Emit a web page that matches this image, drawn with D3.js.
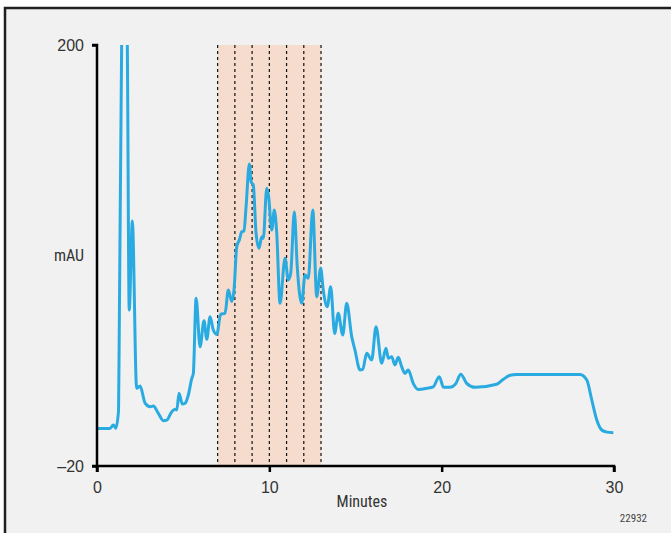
<!DOCTYPE html>
<html>
<head>
<meta charset="utf-8">
<script src="https://cdn.jsdelivr.net/npm/d3@7"></script>
<style>
  body { margin: 0; background: #fff; }
  svg { display: block; }
</style>
</head>
<body>
<svg></svg>
<script>
// retention time (min) and absorbance (mAU)
const minutes = [0, 0.75, 0.95, 1.09, 1.25, 1.30, 1.43, 1.60, 1.76, 1.87, 2.05, 2.30, 2.50, 2.79, 3.08, 3.27,
  3.56, 3.85, 4.05, 4.34, 4.53, 4.63, 4.76, 4.95, 5.11, 5.30, 5.50, 5.59, 5.75, 5.98, 6.21, 6.37,
  6.56, 6.75, 6.95, 7.18, 7.43, 7.62, 7.82, 7.95, 8.11, 8.26, 8.40, 8.53, 8.65, 8.84, 8.94, 9.07,
  9.23, 9.40, 9.56, 9.65, 9.85, 9.96, 10.14, 10.29, 10.43, 10.62, 10.91, 11.10, 11.24, 11.45, 11.62, 11.88,
  12.07, 12.26, 12.52, 12.75, 12.98, 13.13, 13.36, 13.56, 13.79, 14.00, 14.26, 14.49, 14.78, 14.97, 15.26, 15.42,
  15.65, 15.94, 16.19, 16.52, 16.77, 16.90, 17.10, 17.29, 17.48, 17.68, 17.87, 18.06, 18.35, 18.64, 19.13, 19.51,
  19.86, 20.11, 20.48, 20.83, 21.11, 21.45, 21.94, 23.19, 23.58, 23.97, 24.35, 28.03, 28.42, 28.71, 29.00, 29.29,
  29.59, 29.96];
const mAU = [-0.4, -0.4, 1.4, -0.3, 9, 60, 200, 290, 200, 61.5, 108, 20.6, 21.8, 12.9, 11.0, 11.4,
  7.5, 3.7, 4.0, 8.4, 9.6, 9.3, 18.0, 12.4, 12.8, 17.1, 25.8, 28.4, 67.6, 42.3, 55.9, 46.2,
  58.0, 51.1, 48.8, 59.4, 59.8, 72.0, 65.9, 72.0, 94.6, 98.1, 102.4, 102.8, 115.5, 137.8, 128.6, 126.8,
  101.6, 93.8, 99.8, 99.0, 125.1, 120.7, 103.3, 113.8, 101.6, 65.0, 88.5, 77.2, 80.7, 112.9, 84.1, 65.0,
  79.8, 78.1, 113.8, 68.5, 83.3, 72.0, 63.2, 73.7, 49.3, 59.8, 48.5, 65.0, 47.6, 40.6, 30.2, 30.5,
  38.9, 35.4, 52.8, 33.7, 41.5, 36.3, 37.1, 32.8, 36.8, 31.9, 28.4, 30.2, 23.2, 20.0, 20.6, 21.4,
  26.7, 21.1, 21.1, 23.2, 28.0, 23.2, 21.1, 22.7, 25.3, 27.4, 27.8, 27.8, 24.9, 14.5, 4.0, -1.2,
  -2.3, -2.6];
const xTicks = [0, 10, 20, 30];
const yTicks = [-20, 200];
const fractions = [7, 8, 9, 10, 11, 12, 13];

const W = 671, H = 533;
const svg = d3.select("svg").attr("width", W).attr("height", H)
  .style("font-family", "'Liberation Sans Narrow', 'Arial Narrow', 'Roboto Condensed', sans-serif");

// panel background + frame (cut off at right/bottom like the source)
svg.append("rect")
  .attr("x", 5).attr("y", 8).attr("width", W + 10).attr("height", H + 10)
  .attr("fill", "#f1f1f1").attr("stroke", "#231f20").attr("stroke-width", 2.5);

const x = d3.scaleLinear().domain([0, 30]).range([97, 614]);
const y = d3.scaleLinear().domain([-20, 200]).range([466, 45]);

// fraction window
svg.append("rect")
  .attr("x", x(fractions[0])).attr("y", y(200))
  .attr("width", x(fractions[fractions.length - 1]) - x(fractions[0]))
  .attr("height", y(-20) - y(200))
  .attr("fill", "#f6dccd");

svg.selectAll(".frac")
  .data(fractions)
  .join("line")
  .attr("x1", d => x(d)).attr("x2", d => x(d))
  .attr("y1", y(200)).attr("y2", y(-20))
  .attr("stroke", "#111").attr("stroke-width", 1.2)
  .attr("stroke-dasharray", "3,3");

svg.append("clipPath").attr("id", "plot")
  .append("rect").attr("x", x(0)).attr("y", y(200))
  .attr("width", x(30) - x(0) + 5).attr("height", y(-20) - y(200));

const line = d3.line()
  .x(d => x(d[0])).y(d => y(d[1]))
  .curve(d3.curveMonotoneX);

svg.append("path")
  .datum(d3.zip(minutes, mAU))
  .attr("clip-path", "url(#plot)")
  .attr("d", line)
  .attr("fill", "none")
  .attr("stroke", "#29abe2")
  .attr("stroke-width", 3)
  .attr("stroke-linejoin", "round");

// axes
const xAxis = svg.append("g")
  .attr("transform", `translate(0,${y(-20)})`)
  .call(d3.axisBottom(x).tickValues(xTicks).tickSize(6).tickPadding(10).tickFormat(d3.format("d")));
const yAxis = svg.append("g")
  .attr("transform", `translate(${x(0)},0)`)
  .call(d3.axisLeft(y).tickValues(yTicks).tickSize(5).tickPadding(8).tickFormat(d => d < 0 ? "\u201320" : d));

[xAxis, yAxis].forEach(g => {
  g.select(".domain").attr("stroke", "#000").attr("stroke-width", 2.5);
  g.selectAll(".tick line").attr("stroke", "#000").attr("stroke-width", 2.5);
  g.selectAll(".tick text").attr("fill", "#333").attr("font-size", 16);
});
xAxis.select(".domain").attr("d", `M${x(0)},6V0H${x(30)}V6`);
yAxis.select(".domain").attr("d", `M-5,${y(200)}H0V${y(-20)}H-5`);

svg.append("text")
  .attr("x", 84).attr("y", 261)
  .attr("text-anchor", "end")
  .attr("font-size", 16).attr("fill", "#333")
  .text("mAU");

svg.append("text")
  .attr("x", 362).attr("y", 507)
  .attr("text-anchor", "middle")
  .attr("font-size", 16).attr("fill", "#333")
  .text("Minutes");

svg.append("text")
  .attr("x", 647).attr("y", 522)
  .attr("text-anchor", "end")
  .attr("font-size", 11).attr("fill", "#444")
  .text("22932");
</script>
</body>
</html>
